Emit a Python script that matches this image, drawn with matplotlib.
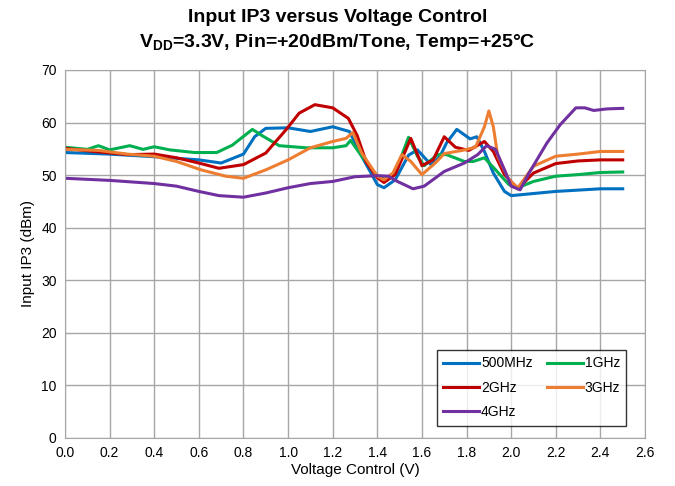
import numpy as np
import matplotlib.pyplot as plt

plt.rcParams['font.family'] = ['Liberation Sans', 'DejaVu Sans']
plt.rcParams['mathtext.default'] = 'regular'

# <><><><><><><><><><><><><><><><><><><><><><><><><><><><><><><><><><>
# Data (Voltage Control V, Input IP3 dBm)
x_500m = [0.0, 0.2, 0.4, 0.6, 0.7, 0.8, 0.85, 0.9, 1.0, 1.1, 1.2, 1.275, 1.33, 1.4, 1.43,
          1.48, 1.54, 1.58, 1.64, 1.68, 1.71, 1.756, 1.816, 1.846, 1.88, 1.92, 1.97, 2.0,
          2.2, 2.4, 2.5]
y_500m = [54.3, 54.0, 53.5, 52.9, 52.3, 54.0, 57.3, 58.9, 59.0, 58.3, 59.2, 58.3, 53.6, 48.2, 47.6,
          49.1, 53.8, 54.8, 52.0, 53.5, 56.1, 58.7, 56.9, 57.3, 54.5, 50.4, 46.9, 46.1,
          46.9, 47.4, 47.4]

x_1g = [0.0, 0.1, 0.15, 0.2, 0.29, 0.35, 0.4, 0.47, 0.58, 0.68, 0.75, 0.84, 0.88, 0.96, 1.08,
        1.2, 1.26, 1.28, 1.33, 1.4, 1.44, 1.48, 1.54, 1.58, 1.61, 1.67, 1.71, 1.79, 1.83,
        1.88, 1.93, 1.99, 2.03, 2.1, 2.2, 2.3, 2.4, 2.5]
y_1g = [55.3, 54.9, 55.6, 54.8, 55.6, 54.9, 55.4, 54.8, 54.3, 54.3, 55.7, 58.7, 57.6, 55.6, 55.2,
        55.2, 55.6, 56.6, 53.6, 49.8, 49.1, 50.4, 57.2, 53.6, 51.8, 53.9, 53.9, 52.6, 52.6,
        53.3, 51.0, 48.2, 47.6, 48.8, 49.8, 50.1, 50.5, 50.6]

x_2g = [0.0, 0.13, 0.28, 0.4, 0.5, 0.6, 0.69, 0.8, 0.9, 0.99, 1.05, 1.12, 1.2, 1.27, 1.31,
        1.35, 1.4, 1.43, 1.48, 1.55, 1.6, 1.65, 1.7, 1.75, 1.81, 1.88, 1.92, 1.97, 2.03,
        2.1, 2.2, 2.3, 2.4, 2.5]
y_2g = [55.1, 54.5, 53.9, 54.0, 53.3, 52.3, 51.3, 52.0, 54.2, 58.6, 61.8, 63.4, 62.8, 60.8, 57.5,
        52.5, 49.5, 48.6, 50.1, 57.0, 51.8, 52.9, 57.3, 55.3, 54.7, 56.4, 54.5, 50.1, 47.4,
        50.4, 52.2, 52.7, 52.9, 52.9]

x_3g = [0.0, 0.15, 0.28, 0.4, 0.5, 0.61, 0.72, 0.8, 0.9, 1.0, 1.1, 1.2, 1.26, 1.29, 1.33,
        1.4, 1.43, 1.47, 1.51, 1.55, 1.6, 1.66, 1.7, 1.78, 1.84, 1.88, 1.9, 1.92, 1.94,
        1.99, 2.03, 2.1, 2.2, 2.3, 2.4, 2.5]
y_3g = [54.9, 54.7, 54.0, 53.6, 52.6, 51.0, 49.8, 49.4, 51.0, 52.9, 55.2, 56.4, 57.0, 58.1, 54.2,
        49.8, 49.1, 50.4, 53.9, 52.6, 50.1, 52.3, 54.1, 54.7, 55.3, 59.2, 62.2, 59.2, 53.6,
        49.1, 47.6, 51.7, 53.6, 54.0, 54.5, 54.5]

x_4g = [0.0, 0.2, 0.4, 0.5, 0.6, 0.69, 0.8, 0.9, 1.0, 1.1, 1.2, 1.3, 1.4, 1.45, 1.49,
        1.56, 1.61, 1.7, 1.79, 1.85, 1.89, 1.93, 1.97, 2.0, 2.04, 2.08, 2.16, 2.22, 2.29,
        2.33, 2.37, 2.43, 2.5]
y_4g = [49.4, 49.0, 48.4, 47.9, 46.9, 46.1, 45.8, 46.6, 47.6, 48.4, 48.8, 49.7, 49.9, 49.8, 48.8,
        47.4, 47.9, 50.7, 52.3, 53.9, 55.6, 54.9, 51.0, 47.9, 47.2, 50.4, 56.1, 59.6, 62.8,
        62.8, 62.3, 62.6, 62.7]

labels = ['500MHz', '1GHz', '2GHz', '3GHz', '4GHz']
colors = ['#0070C0', '#00B050', '#C00000', '#ED7D31', '#7030A0']
xticks = np.arange(0.0, 2.61, 0.2)
yticks = np.arange(0, 71, 10)
# <><><><><><><><><><><><><><><><><><><><><><><><><><><><><><><><><><>

fig = plt.figure(figsize=(6.75, 4.86), dpi=100)
ax = fig.add_axes([0.0963, 0.0988, 0.8593, 0.7572])

series = [(x_500m, y_500m), (x_1g, y_1g), (x_2g, y_2g), (x_3g, y_3g), (x_4g, y_4g)]
lines = []
for (xs, ys), lab, c in zip(series, labels, colors):
    ln, = ax.plot(xs, ys, color=c, lw=2.2, label=lab, solid_joinstyle='round')
    lines.append(ln)

ax.set_xlim(0, 2.6)
ax.set_ylim(0, 70)
ax.set_xticks(xticks)
ax.set_xticklabels(['%.1f' % t for t in xticks])
ax.set_yticks(yticks)
ax.tick_params(length=0, labelsize=10, pad=6)
ax.grid(True, color='#a6a6a6', lw=1.0)
ax.set_axisbelow(True)
for s in ax.spines.values():
    s.set_color('#a6a6a6')
ax.set_xlabel('Voltage Control (V)', fontsize=11, labelpad=2)
ax.set_ylabel('Input IP3 (dBm)', fontsize=11, labelpad=4)

# legend is filled row by row in the reference, matplotlib fills by column
order = [0, 2, 4, 1, 3]
leg = ax.legend([lines[i] for i in order], [labels[i] for i in order],
                ncol=2, loc='lower right', bbox_to_anchor=(0.98, 0.015), fontsize=10,
                frameon=True, fancybox=False, edgecolor='black', handlelength=2.6,
                handletextpad=0.15, columnspacing=1.0, labelspacing=0.75, borderpad=0.45)
leg.get_frame().set_linewidth(1.0)

fig.text(0.5, 0.965, 'Input IP3 versus Voltage Control', ha='center', va='center',
         fontsize=14, fontweight='bold')
fig.text(0.5, 0.912, r'V$_{DD}$=3.3V, Pin=+20dBm/Tone, Temp=+25°C', ha='center', va='center',
         fontsize=14, fontweight='bold')

fig.savefig('out.png', dpi=100)
